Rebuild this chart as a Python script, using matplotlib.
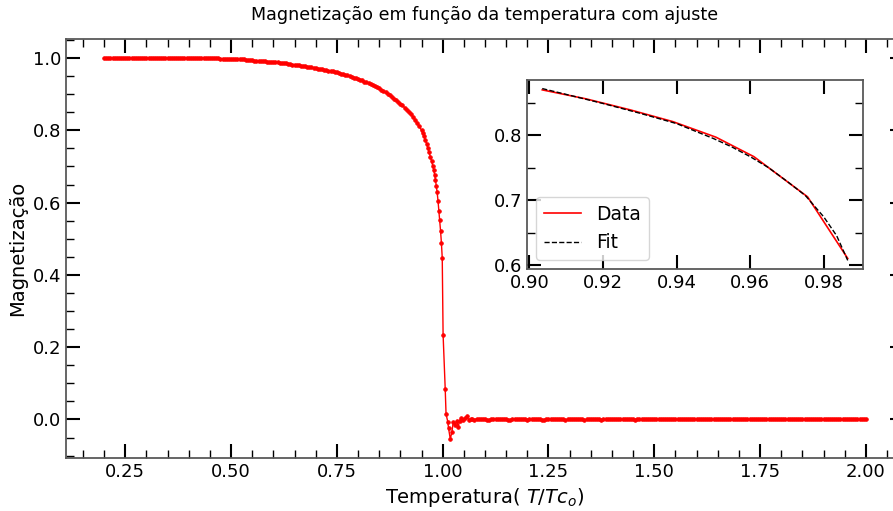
import matplotlib.pyplot as plt
from matplotlib.ticker import MultipleLocator

# magnetizacao media por temperatura reduzida T/Tc
# fase ordenada, longe de Tc
temp_baixa = [
    0.200, 0.205, 0.210, 0.215, 0.220, 0.225, 0.230, 0.235, 0.240, 0.245,
    0.250, 0.255, 0.260, 0.265, 0.270, 0.275, 0.280, 0.285, 0.290, 0.295,
    0.300, 0.305, 0.310, 0.315, 0.320, 0.325, 0.330, 0.335, 0.340, 0.345,
    0.350, 0.355, 0.360, 0.365, 0.370, 0.375, 0.380, 0.385, 0.390, 0.395,
    0.400, 0.405, 0.410, 0.415, 0.420, 0.425, 0.430, 0.435, 0.440, 0.445,
    0.450, 0.455, 0.460, 0.465, 0.470, 0.475, 0.480, 0.485, 0.490, 0.495,
    0.500, 0.505, 0.510, 0.515, 0.520, 0.525, 0.530, 0.535, 0.540, 0.545,
    0.550, 0.555, 0.560, 0.565, 0.570, 0.575, 0.580, 0.585, 0.590, 0.595,
    0.600, 0.605, 0.610, 0.615, 0.620, 0.625, 0.630, 0.635, 0.640, 0.645,
    0.650, 0.655, 0.660, 0.665, 0.670, 0.675, 0.680, 0.685, 0.690, 0.695,
    0.700, 0.705, 0.710, 0.715, 0.720, 0.725, 0.730, 0.735, 0.740, 0.745,
    0.750, 0.755, 0.760, 0.765, 0.770, 0.775, 0.780, 0.785, 0.790, 0.795,
    0.800, 0.805, 0.810, 0.815, 0.820, 0.825, 0.830, 0.835, 0.840, 0.845,
    0.850, 0.855, 0.860, 0.865, 0.870, 0.875, 0.880, 0.885, 0.890, 0.895,
    0.900, 0.905, 0.910, 0.915, 0.920, 0.925, 0.930, 0.935, 0.940, 0.945,
    0.950,
]
mag_baixa = [
    1.000, 1.000, 1.000, 1.000, 1.000, 1.000, 1.000, 1.000, 1.000, 1.000,
    1.000, 1.000, 1.000, 1.000, 1.000, 1.000, 1.000, 1.000, 1.000, 1.000,
    1.000, 1.000, 1.000, 1.000, 1.000, 1.000, 1.000, 1.000, 1.000, 1.000,
    1.000, 1.000, 1.000, 1.000, 1.000, 1.000, 1.000, 1.000, 1.000, 1.000,
    1.000, 1.000, 1.000, 1.000, 1.000, 1.000, 1.000, 1.000, 1.000, 1.000,
    0.999, 0.999, 0.999, 0.999, 0.999, 0.998, 0.998, 0.998, 0.998, 0.997,
    0.997, 0.997, 0.997, 0.996, 0.996, 0.996, 0.996, 0.995, 0.995, 0.994,
    0.994, 0.993, 0.993, 0.992, 0.992, 0.991, 0.991, 0.990, 0.990, 0.989,
    0.989, 0.988, 0.988, 0.987, 0.986, 0.985, 0.985, 0.984, 0.983, 0.982,
    0.982, 0.981, 0.980, 0.979, 0.978, 0.977, 0.976, 0.975, 0.974, 0.973,
    0.972, 0.971, 0.970, 0.969, 0.968, 0.966, 0.965, 0.964, 0.963, 0.961,
    0.960, 0.958, 0.957, 0.955, 0.954, 0.952, 0.950, 0.948, 0.946, 0.944,
    0.942, 0.940, 0.938, 0.935, 0.933, 0.930, 0.928, 0.925, 0.922, 0.919,
    0.916, 0.912, 0.909, 0.905, 0.901, 0.897, 0.893, 0.888, 0.884, 0.879,
    0.874, 0.869, 0.863, 0.857, 0.851, 0.844, 0.837, 0.829, 0.820, 0.811,
    0.800,
]

# queda perto de Tc e oscilacao logo depois
temp_trans = [
    0.953, 0.956, 0.959, 0.962, 0.965, 0.968, 0.971, 0.974, 0.977, 0.979,
    0.981, 0.983, 0.985, 0.987, 0.989, 0.991, 0.993, 0.995, 0.997, 0.999,
    1.001, 1.006, 1.008, 1.012, 1.014, 1.018, 1.022, 1.025, 1.029, 1.033,
    1.037, 1.040, 1.044, 1.049, 1.053, 1.057, 1.062, 1.066, 1.070, 1.075,
]
mag_trans = [
    0.792, 0.783, 0.773, 0.763, 0.751, 0.739, 0.727, 0.714, 0.700, 0.690,
    0.677, 0.663, 0.646, 0.628, 0.605, 0.578, 0.552, 0.522, 0.489, 0.447,
    0.235, 0.085, 0.015, -0.006, -0.025, -0.054, -0.034, -0.006, -0.016, -0.005,
    -0.020, -0.003, 0.003, -0.002, 0.004, 0.009, -0.002, 0.002, 0.001, -0.001,
]

# fase desordenada
temp_alta = [
    1.080, 1.085, 1.090, 1.095, 1.100, 1.105, 1.110, 1.115, 1.120, 1.125,
    1.130, 1.135, 1.140, 1.145, 1.150, 1.155, 1.160, 1.165, 1.170, 1.175,
    1.180, 1.185, 1.190, 1.195, 1.200, 1.205, 1.210, 1.215, 1.220, 1.225,
    1.230, 1.235, 1.240, 1.245, 1.250, 1.255, 1.260, 1.265, 1.270, 1.275,
    1.280, 1.285, 1.290, 1.295, 1.300, 1.305, 1.310, 1.315, 1.320, 1.325,
    1.330, 1.335, 1.340, 1.345, 1.350, 1.355, 1.360, 1.365, 1.370, 1.375,
    1.380, 1.385, 1.390, 1.395, 1.400, 1.405, 1.410, 1.415, 1.420, 1.425,
    1.430, 1.435, 1.440, 1.445, 1.450, 1.455, 1.460, 1.465, 1.470, 1.475,
    1.480, 1.485, 1.490, 1.495, 1.500, 1.505, 1.510, 1.515, 1.520, 1.525,
    1.530, 1.535, 1.540, 1.545, 1.550, 1.555, 1.560, 1.565, 1.570, 1.575,
    1.580, 1.585, 1.590, 1.595, 1.600, 1.605, 1.610, 1.615, 1.620, 1.625,
    1.630, 1.635, 1.640, 1.645, 1.650, 1.655, 1.660, 1.665, 1.670, 1.675,
    1.680, 1.685, 1.690, 1.695, 1.700, 1.705, 1.710, 1.715, 1.720, 1.725,
    1.730, 1.735, 1.740, 1.745, 1.750, 1.755, 1.760, 1.765, 1.770, 1.775,
    1.780, 1.785, 1.790, 1.795, 1.800, 1.805, 1.810, 1.815, 1.820, 1.825,
    1.830, 1.835, 1.840, 1.845, 1.850, 1.855, 1.860, 1.865, 1.870, 1.875,
    1.880, 1.885, 1.890, 1.895, 1.900, 1.905, 1.910, 1.915, 1.920, 1.925,
    1.930, 1.935, 1.940, 1.945, 1.950, 1.955, 1.960, 1.965, 1.970, 1.975,
    1.980, 1.985, 1.990, 1.995, 2.000,
]
mag_alta = [
    0.002, 0.001, 0.000, 0.001, 0.001, -0.001, -0.001, 0.000, 0.001, 0.001,
    0.000, 0.001, 0.002, 0.000, 0.000, -0.001, -0.001, 0.000, 0.001, 0.000,
    0.000, 0.001, 0.001, 0.000, -0.001, 0.000, 0.000, 0.001, 0.001, 0.000,
    0.000, -0.001, -0.001, 0.000, 0.001, 0.000, 0.000, 0.000, 0.000, 0.001,
    0.001, 0.000, -0.001, 0.000, 0.000, 0.000, 0.000, 0.001, 0.000, 0.000,
    0.000, -0.001, 0.000, 0.000, 0.001, 0.000, 0.000, 0.000, 0.000, -0.001,
    0.000, 0.000, 0.000, 0.001, 0.000, 0.000, 0.000, 0.000, 0.000, 0.000,
    0.001, 0.000, 0.000, 0.000, 0.000, -0.001, 0.000, 0.000, 0.000, 0.000,
    0.000, 0.000, 0.000, 0.000, 0.000, 0.001, 0.000, 0.000, 0.000, 0.000,
    0.000, 0.000, 0.000, 0.000, 0.000, 0.000, 0.000, 0.000, 0.000, 0.000,
    0.000, 0.000, 0.000, 0.000, 0.000, 0.000, 0.000, 0.000, 0.000, 0.000,
    0.000, 0.000, 0.000, 0.000, 0.000, 0.000, 0.000, 0.000, 0.000, 0.000,
    0.000, 0.000, 0.000, 0.000, 0.000, 0.000, 0.000, 0.000, 0.000, 0.000,
    0.000, 0.000, 0.000, 0.000, 0.000, 0.000, 0.000, 0.000, 0.000, 0.000,
    0.000, 0.000, 0.000, 0.000, 0.000, 0.000, 0.000, 0.000, 0.000, 0.000,
    0.000, 0.000, 0.000, 0.000, 0.000, 0.000, 0.000, 0.000, 0.000, 0.000,
    0.000, 0.000, 0.000, 0.000, 0.000, 0.000, 0.000, 0.000, 0.000, 0.000,
    0.000, 0.000, 0.000, 0.000, 0.000, 0.000, 0.000, 0.000, 0.000, 0.000,
    0.000, 0.000, 0.000, 0.000, 0.000,
]

temperatura = temp_baixa + temp_trans + temp_alta
magnetizacao = mag_baixa + mag_trans + mag_alta

# trecho perto de Tc usado no ajuste
dados_T = [0.9035, 0.9155, 0.9275, 0.9390, 0.9507, 0.9610, 0.9756, 0.9865]
dados_M = [0.870, 0.856, 0.839, 0.821, 0.797, 0.767, 0.705, 0.610]

ajuste_T = [0.9035, 0.91, 0.92, 0.93, 0.94, 0.95, 0.955, 0.96, 0.965, 0.97, 0.975, 0.98, 0.9835, 0.9865]
ajuste_M = [0.872, 0.863, 0.849, 0.834, 0.818, 0.795, 0.782, 0.767, 0.750, 0.729, 0.707, 0.674, 0.645, 0.607]


fig = plt.figure(figsize=(8.93, 5.11), dpi=100)

ax = fig.add_axes([0.0739, 0.1037, 0.9384, 0.820])
ax.plot(temperatura, magnetizacao, color='red', marker='o', markersize=2.6,
        markeredgewidth=0.6, linewidth=1.0)
ax.set_title('Magnetização em função da temperatura com ajuste', fontsize=12.6, pad=14)
ax.set_xlabel('Temperatura( $T/Tc_o$)', fontsize=14)
ax.set_ylabel('Magnetização', fontsize=14)
ax.xaxis.set_minor_locator(MultipleLocator(0.05))
ax.yaxis.set_minor_locator(MultipleLocator(0.05))
ax.tick_params(which='both', direction='in', top=True, right=True, labelsize=13)
ax.tick_params(which='major', length=10, width=1.5)
ax.tick_params(which='minor', length=6, width=1)
for s in ax.spines.values():
    s.set_color('0.35')
    s.set_linewidth(1.3)

# inset com o ajuste
ins = fig.add_axes([0.5901, 0.4736, 0.3763, 0.3699])
ins.plot(dados_T, dados_M, color='red', linewidth=1.2, label='Data')
ins.plot(ajuste_T, ajuste_M, 'k--', linewidth=1.0, label='Fit')
ins.yaxis.set_minor_locator(MultipleLocator(0.05))
ins.tick_params(which='both', direction='in', top=True, right=True, labelsize=13)
ins.tick_params(which='major', length=10, width=1.5)
ins.tick_params(which='minor', length=6, width=1)
for s in ins.spines.values():
    s.set_color('0.35')
    s.set_linewidth(1.3)
ins.legend(loc='lower left', fontsize=13.5)

fig.savefig('out.png', dpi=100)
